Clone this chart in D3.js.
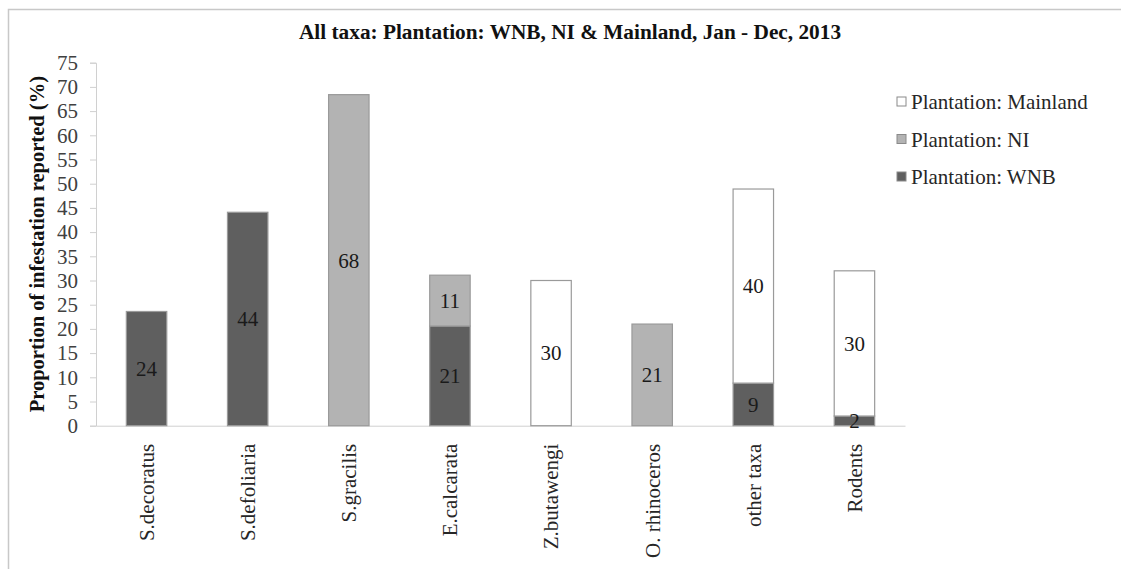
<!DOCTYPE html>
<html>
<head>
<meta charset="utf-8">
<script src="https://cdn.jsdelivr.net/npm/d3@7"></script>
<style>
  html, body { margin: 0; padding: 0; background: #fff; }
  svg { display: block; }
</style>
</head>
<body>
<svg id="chart" width="1121" height="569" font-family="Liberation Serif, serif"></svg>
<script>
const categories = ["S.decoratus", "S.defoliaria", "S.gracilis", "E.calcarata", "Z.butawengi", "O. rhinoceros", "other taxa", "Rodents"];
const wnb      = [23.6, 44.1, 0,    20.6, 0,    0,    8.8,  2.0];
const ni       = [0,    0,    68.4, 10.5, 0,    21.0, 0,    0];
const mainland = [0,    0,    0,    0,    30.0, 0,    40.1, 30.0];
const seriesNames = ["Plantation: WNB", "Plantation: NI", "Plantation: Mainland"];
const seriesColors = ["#5f5f5f", "#b3b3b3", "#ffffff"];
const yTicks = [0, 5, 10, 15, 20, 25, 30, 35, 40, 45, 50, 55, 60, 65, 70, 75];
const title = "All taxa: Plantation: WNB, NI & Mainland, Jan - Dec, 2013";
const yTitle = "Proportion of infestation reported (%)";

const FONT = "Liberation Serif";
const svg = d3.select("#chart");

// outer frame
svg.append("rect").attr("x", 8.5).attr("y", 9.5).attr("width", 1300).attr("height", 800)
  .attr("fill", "#fff").attr("stroke", "#c8c8c8").attr("stroke-width", 1.5);

const x0 = 96, x1 = 905, yTop = 62.7, yBot = 425.7;
const x = d3.scaleBand().domain(categories).range([x0, x1]).paddingInner(0.6).paddingOuter(0.3);
const y = d3.scaleLinear().domain([0, 75]).range([yBot, yTop]);

// title
svg.append("text").attr("x", 570).attr("y", 39).attr("text-anchor", "middle")
  .attr("font-family", FONT).attr("font-weight", "bold").attr("font-size", 21.3).attr("fill", "#111").text(title);

// y axis
const yAxis = svg.append("g").attr("transform", `translate(${x0},0)`)
  .call(d3.axisLeft(y).tickValues(yTicks).tickSize(6).tickPadding(12));
yAxis.attr("font-family", FONT);
yAxis.select(".domain").attr("stroke", "#d0d0d0");
yAxis.selectAll(".tick line").attr("stroke", "#d0d0d0");
yAxis.selectAll(".tick text").attr("font-family", FONT).attr("font-size", 21).attr("fill", "#404040");

// x axis line
const xAxis = svg.append("g").attr("transform", `translate(0,${yBot})`)
  .call(d3.axisBottom(x).tickSize(0).tickPadding(0));
xAxis.attr("font-family", FONT);
xAxis.select(".domain").attr("stroke", "#d0d0d0");
xAxis.selectAll(".tick text").remove();
xAxis.selectAll(".tick").append("text")
  .attr("transform", "translate(0,18) rotate(-90)")
  .attr("text-anchor", "end").attr("dy", "0.35em")
  .attr("font-family", FONT).attr("font-size", 21).attr("fill", "#262626")
  .text(d => d);

// stacked data
const rows = categories.map((c, i) => ({cat: c, wnb: wnb[i], ni: ni[i], mainland: mainland[i]}));
const stack = d3.stack().keys(["wnb", "ni", "mainland"]);
const stacked = stack(rows);

const g = svg.append("g");
stacked.forEach((layer, li) => {
  layer.forEach(seg => {
    const v = seg[1] - seg[0];
    if (v <= 0) return;
    g.append("rect")
      .attr("x", x(seg.data.cat)).attr("width", x.bandwidth())
      .attr("y", y(seg[1])).attr("height", y(seg[0]) - y(seg[1]))
      .attr("fill", seriesColors[li]).attr("stroke", "#9a9a9a").attr("stroke-width", 1.2);
  });
});
stacked.forEach((layer, li) => {
  layer.forEach(seg => {
    const v = seg[1] - seg[0];
    if (v <= 0) return;
    g.append("text")
      .attr("x", x(seg.data.cat) + x.bandwidth() / 2)
      .attr("y", (y(seg[0]) + y(seg[1])) / 2).attr("dy", "0.35em")
      .attr("text-anchor", "middle").attr("font-family", FONT).attr("font-size", 21).attr("fill", "#1a1a1a")
      .text(Math.round(v));
  });
});

// legend (reverse order)
const legendY = [102, 139.5, 177];
const order = [2, 1, 0];
order.forEach((si, k) => {
  const lg = svg.append("g").attr("transform", `translate(897,${legendY[k]})`);
  lg.append("rect").attr("x", 0).attr("y", -5).attr("width", 9).attr("height", 9)
    .attr("fill", seriesColors[si]).attr("stroke", "#8a8a8a").attr("stroke-width", 1);
  lg.append("text").attr("x", 14).attr("y", 0).attr("dy", "0.35em")
    .attr("font-family", FONT).attr("font-size", 21).attr("fill", "#262626").text(seriesNames[si]);
});

// y axis title
svg.append("text")
  .attr("transform", `translate(37,${(yTop + yBot) / 2}) rotate(-90)`)
  .attr("text-anchor", "middle").attr("dy", "0.35em")
  .attr("font-family", FONT).attr("font-weight", "bold").attr("font-size", 20.5).attr("fill", "#111")
  .text(yTitle);
</script>
</body>
</html>
